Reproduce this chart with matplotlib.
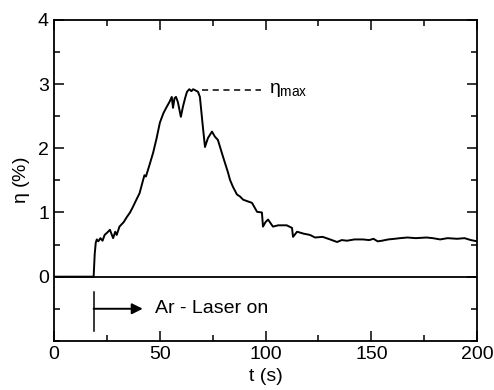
import matplotlib.pyplot as plt
from matplotlib.ticker import MultipleLocator

plt.rcParams['font.family'] = ['Liberation Sans', 'DejaVu Sans']
plt.rcParams['mathtext.fontset'] = 'custom'
plt.rcParams['mathtext.rm'] = 'Liberation Sans'
plt.rcParams['mathtext.it'] = 'Liberation Sans'

# time (s) and efficiency eta (%)
t = [0, 18.8, 19.3, 19.8, 20.3, 21.0, 22.0, 23.0, 24.0, 25.0, 26.5, 27.3, 28.0,
     29.0, 29.7, 31.0, 33.0, 34.5, 36.0, 37.4, 39.0, 40.5, 42.2, 42.8, 43.5,
     45.0, 46.9, 48.5, 50.1, 51.8, 53.4, 54.6, 55.7, 56.3, 57.0, 57.7, 58.6,
     60.0, 61.0, 62.0, 62.9, 64.0, 65.0, 65.8, 67.0, 68.1, 69.0, 70.2, 71.4,
     72.8, 74.7, 76.1, 77.5, 79.9, 82.3, 83.2, 84.6, 86.5, 87.9, 89.4, 91.0,
     93.6, 96.0, 98.3, 98.8, 100.0, 101.2, 103.5, 106.0, 110.0, 112.5, 113.0,
     114.9, 118.0, 121.0, 123.4, 127.0, 130.5, 133.8, 136.0, 138.5, 142.0,
     146.0, 149.0, 151.0, 153.0, 155.0, 158.0, 161.0, 163.6, 167.0, 171.0,
     176.0, 179.0, 182.5, 186.0, 190.5, 194.0, 197.0, 200.0]
eta = [0, 0, 0.35, 0.53, 0.58, 0.55, 0.60, 0.56, 0.65, 0.68, 0.73, 0.66, 0.60,
       0.70, 0.65, 0.78, 0.85, 0.93, 1.00, 1.09, 1.20, 1.30, 1.51, 1.58, 1.56,
       1.72, 1.93, 2.15, 2.40, 2.55, 2.65, 2.72, 2.80, 2.63, 2.78, 2.80, 2.72,
       2.49, 2.65, 2.78, 2.88, 2.92, 2.89, 2.92, 2.90, 2.88, 2.80, 2.40, 2.02,
       2.16, 2.26, 2.18, 2.13, 1.87, 1.62, 1.51, 1.40, 1.28, 1.25, 1.20, 1.18,
       1.15, 1.01, 1.00, 0.78, 0.85, 0.89, 0.78, 0.80, 0.80, 0.76, 0.62, 0.70,
       0.67, 0.65, 0.61, 0.62, 0.58, 0.54, 0.57, 0.56, 0.58, 0.58, 0.57, 0.59,
       0.55, 0.56, 0.58, 0.59, 0.60, 0.61, 0.60, 0.61, 0.60, 0.58, 0.60, 0.59,
       0.60, 0.57, 0.55]

laser_on = 18.8
eta_max = 2.91

fig = plt.figure(figsize=(4.94, 3.9), dpi=100)
ax = fig.add_axes([0.109, 0.126, 0.857, 0.823])

ax.plot(t, eta, color='black', lw=1.4)
ax.axhline(0, color='black', lw=1.3)

# eta_max marker
ax.plot([70, 98], [eta_max, eta_max], color='black', lw=1.1, ls=(0, (4, 3)))
ax.text(101.5, eta_max, r'$\eta_{\rm max}$', fontsize=14, va='center', ha='left')

# laser switched on
ax.plot([laser_on, laser_on], [-0.24, -0.84], color='black', lw=1.1)
ax.annotate('', xy=(42, -0.5), xytext=(laser_on, -0.5),
            arrowprops=dict(arrowstyle='-|>', color='black', lw=1.4,
                            mutation_scale=16, shrinkA=0, shrinkB=0))
ax.text(48, -0.5, 'Ar - Laser on', fontsize=14, va='center', ha='left')

ax.set_xlim(0, 200)
ax.set_ylim(-1, 4)
ax.xaxis.set_major_locator(MultipleLocator(50))
ax.xaxis.set_minor_locator(MultipleLocator(25))
ax.yaxis.set_major_locator(MultipleLocator(1))
ax.yaxis.set_minor_locator(MultipleLocator(0.5))
ax.set_yticks([0, 1, 2, 3, 4])
ax.tick_params(which='both', direction='in', top=True, right=True, labelsize=14, width=1.1)
ax.tick_params(which='major', length=7)
ax.tick_params(which='minor', length=4)
for s in ax.spines.values():
    s.set_linewidth(1.3)

ax.set_xlabel('t (s)', fontsize=14, labelpad=4)
ax.set_ylabel(r'$\eta$ (%)', fontsize=14, labelpad=4)

fig.savefig('out.png', dpi=100)
